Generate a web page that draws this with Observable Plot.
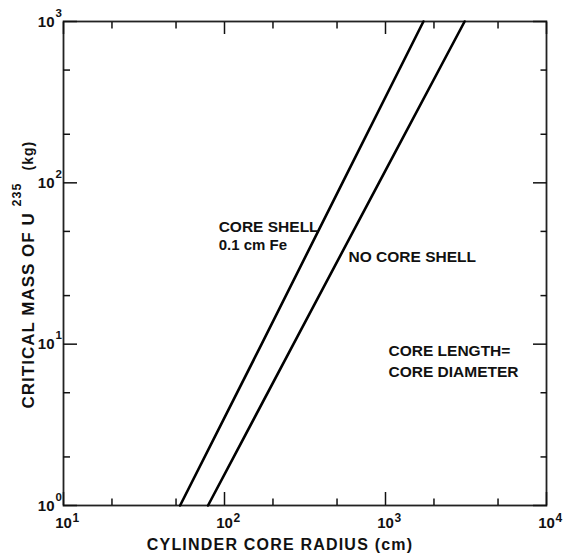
<!DOCTYPE html>
<html>
<head>
<meta charset="utf-8">
<script src="https://cdn.jsdelivr.net/npm/d3@7"></script>
<script src="https://cdn.jsdelivr.net/npm/@observablehq/plot@0.6"></script>
<style>
  html, body { margin: 0; padding: 0; background: #fff; overflow: hidden; }
  #chart svg { display: block; }
</style>
</head>
<body>
<div id="chart"></div>
<script>
// Critical mass of U-235 against cylinder core radius (log–log)
const massKg = [1, 10, 100, 1000];
const radiusCoreShell = [53, 170, 540, 1720];     // 0.1 cm Fe core shell
const radiusNoCoreShell = [79, 268, 910, 3100];   // bare core

const xMajorTicks = [10, 100, 1000, 10000];
const xMinorTicks = [20, 50, 200, 500, 2000, 5000];
const yMajorTicks = [1, 10, 100, 1000];
const yMinorTicks = [2, 5, 20, 50, 200, 500];

const xTitle = "CYLINDER CORE RADIUS (cm)";
const yTitleParts = ["CRITICAL MASS OF U", "235", "(kg)"];
const curveLabels = ["CORE SHELL", "0.1 cm Fe", "NO CORE SHELL"];
const noteLines = ["CORE LENGTH=", "CORE DIAMETER"];

const curves = [
  ...massKg.map((m, i) => ({series: "core shell", mass: m, radius: radiusCoreShell[i]})),
  ...massKg.map((m, i) => ({series: "no core shell", mass: m, radius: radiusNoCoreShell[i]}))
];

const ink = "#111";
const exponent = d => String(Math.round(Math.log10(d)));

const chart = Plot.plot({
  width: 569,
  height: 553,
  marginLeft: 63,
  marginRight: 23,
  marginTop: 21,
  marginBottom: 48,
  x: {type: "log", domain: [10, 10000]},
  y: {type: "log", domain: [1, 1000]},
  style: {
    fontFamily: "'Liberation Sans', Arial, sans-serif",
    fontWeight: "bold",
    color: ink,
    background: "#fff"
  },
  marks: [
    Plot.frame({stroke: "#222", strokeWidth: 1.8}),

    // inward ticks on all four sides
    Plot.axisX({anchor: "bottom", ticks: xMajorTicks, tickSize: -13, tickFormat: () => "", label: null, strokeWidth: 1.5}),
    Plot.axisX({anchor: "bottom", ticks: xMinorTicks, tickSize: -6.5, tickFormat: () => "", label: null, strokeWidth: 1.5}),
    Plot.axisX({anchor: "top", ticks: xMajorTicks, tickSize: -12, tickFormat: () => "", label: null, strokeWidth: 1.5}),
    Plot.axisX({anchor: "top", ticks: xMinorTicks, tickSize: -6.5, tickFormat: () => "", label: null, strokeWidth: 1.5}),
    Plot.axisY({anchor: "left", ticks: yMajorTicks, tickSize: -14, tickFormat: () => "", label: null, strokeWidth: 1.5}),
    Plot.axisY({anchor: "left", ticks: yMinorTicks, tickSize: -7, tickFormat: () => "", label: null, strokeWidth: 1.5}),
    Plot.axisY({anchor: "right", ticks: yMajorTicks, tickSize: -14, tickFormat: () => "", label: null, strokeWidth: 1.5}),
    Plot.axisY({anchor: "right", ticks: yMinorTicks, tickSize: -6.5, tickFormat: () => "", label: null, strokeWidth: 1.5}),

    // power-of-ten tick labels
    Plot.text(xMajorTicks, {x: d => d, frameAnchor: "bottom", text: () => "10", dy: 22, textAnchor: "middle", lineAnchor: "bottom", fontSize: 15, fill: ink}),
    Plot.text(xMajorTicks, {x: d => d, frameAnchor: "bottom", text: exponent, dx: 9, dy: 16, textAnchor: "start", lineAnchor: "bottom", fontSize: 12, fill: ink}),
    Plot.text(yMajorTicks, {y: d => d, frameAnchor: "left", text: () => "10", dx: -9, dy: 5, textAnchor: "end", lineAnchor: "bottom", fontSize: 15, fill: ink}),
    Plot.text(yMajorTicks, {y: d => d, frameAnchor: "left", text: exponent, dx: -8, dy: -5, textAnchor: "start", lineAnchor: "bottom", fontSize: 11.5, fill: ink}),

    // curves
    Plot.line(curves, {x: "radius", y: "mass", z: "series", stroke: "#000", strokeWidth: 2.6}),

    // curve annotations
    Plot.text([curveLabels[0]], {x: 92, y: 49.3, text: d => d, textAnchor: "start", lineAnchor: "bottom", fontSize: 15.5, fill: ink}),
    Plot.text([curveLabels[1]], {x: 92, y: 38.1, text: d => d, textAnchor: "start", lineAnchor: "bottom", fontSize: 15, fill: ink}),
    Plot.text([curveLabels[2]], {x: 589, y: 32.1, text: d => d, textAnchor: "start", lineAnchor: "bottom", fontSize: 15.5, fill: ink}),
    Plot.text([noteLines[0]], {x: 1044, y: 8.39, text: d => d, textAnchor: "start", lineAnchor: "bottom", fontSize: 15.5, fill: ink}),
    Plot.text([noteLines[1]], {x: 1044, y: 6.22, text: d => d, textAnchor: "start", lineAnchor: "bottom", fontSize: 15.5, fill: ink}),

    // axis titles
    Plot.text([xTitle], {frameAnchor: "bottom", text: d => d, dx: -25, dy: 44, textAnchor: "middle", lineAnchor: "bottom", fontSize: 16, fill: ink}),
    Plot.text([yTitleParts[0]], {frameAnchor: "left", text: d => d, rotate: -90, dx: -30, dy: 145, textAnchor: "start", lineAnchor: "bottom", fontSize: 17, fill: ink}),
    Plot.text([yTitleParts[1]], {frameAnchor: "left", text: d => d, rotate: -90, dx: -43, dy: -57, textAnchor: "start", lineAnchor: "bottom", fontSize: 12.5, fill: ink}),
    Plot.text([yTitleParts[2]], {frameAnchor: "left", text: d => d, rotate: -90, dx: -31, dy: -93, textAnchor: "start", lineAnchor: "bottom", fontSize: 14, fill: ink})
  ]
});

// lettering-style spacing on the axis titles
d3.select(chart).selectAll("text")
  .filter(function () { return this.textContent === xTitle; })
  .style("letter-spacing", "1.2px");
d3.select(chart).selectAll("text")
  .filter(function () { return yTitleParts.includes(this.textContent); })
  .style("letter-spacing", "1px");

document.getElementById("chart").appendChild(chart);
</script>
</body>
</html>
